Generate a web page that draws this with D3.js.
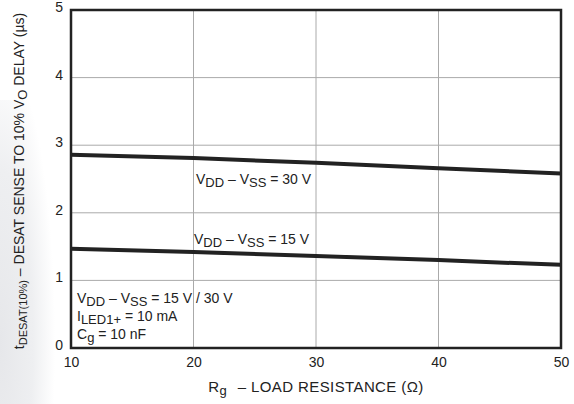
<!DOCTYPE html>
<html>
<head>
<meta charset="utf-8">
<script src="https://cdn.jsdelivr.net/npm/d3@7"></script>
<style>
body { margin: 0; background: #fff; }
text { font-family: "Liberation Sans", Arial, sans-serif; fill: #222; }
</style>
</head>
<body>
<svg id="chart" width="574" height="404"></svg>
<script>
// data
const rg = [10, 20, 30, 40, 50];
const delay30 = [2.86, 2.81, 2.74, 2.66, 2.58];
const delay15 = [1.47, 1.42, 1.36, 1.30, 1.23];
const xTicks = [10, 20, 30, 40, 50];
const yTicks = [0, 1, 2, 3, 4, 5];

const svg = d3.select("#chart");
const pLeft = 71, pRight = 561, pTop = 10, pBottom = 348;

const x = d3.scaleLinear().domain([10, 50]).range([pLeft, pRight]);
const y = d3.scaleLinear().domain([0, 5]).range([pBottom, pTop]);

// faint grey shading on the left edge
const grad = svg.append("defs").append("radialGradient")
    .attr("id", "shade").attr("cx", "0").attr("cy", "0.8").attr("r", "0.95");
grad.append("stop").attr("offset", "0%").attr("stop-color", "#e6e7ea");
grad.append("stop").attr("offset", "60%").attr("stop-color", "#eeeff1");
grad.append("stop").attr("offset", "100%").attr("stop-color", "#fff");
svg.append("rect").attr("x", 0).attr("y", 100).attr("width", 58).attr("height", 304)
    .attr("fill", "url(#shade)");

// grid
svg.append("g").selectAll("line").data(xTicks.slice(1, -1)).enter().append("line")
    .attr("x1", d => x(d)).attr("x2", d => x(d))
    .attr("y1", pTop).attr("y2", pBottom)
    .attr("stroke", "#aaa").attr("stroke-width", 1);
svg.append("g").selectAll("line").data(yTicks.slice(1, -1)).enter().append("line")
    .attr("x1", pLeft).attr("x2", pRight)
    .attr("y1", d => y(d)).attr("y2", d => y(d))
    .attr("stroke", "#aaa").attr("stroke-width", 1);

// axes (labels only, box drawn below)
const xAxis = svg.append("g").attr("transform", "translate(0," + pBottom + ")")
    .call(d3.axisBottom(x).tickValues(xTicks).tickFormat(d3.format("d")).tickSize(0).tickPadding(6));
const yAxis = svg.append("g").attr("transform", "translate(" + pLeft + ",0)")
    .call(d3.axisLeft(y).tickValues(yTicks).tickFormat(d3.format("d")).tickSize(0).tickPadding(8));
[xAxis, yAxis].forEach(a => {
    a.select(".domain").remove();
    a.selectAll("text").style("font-size", "14px").attr("fill", "#222")
        .style("font-family", "'Liberation Sans', Arial, sans-serif");
});
xAxis.selectAll("text").attr("dy", "0.9em");
yAxis.selectAll("text").attr("dy", "0.1em");

// curves
const line = d3.line().x((d, i) => x(rg[i])).y(d => y(d));
[delay30, delay15].forEach(s => {
    svg.append("path").datum(s).attr("d", line)
        .attr("fill", "none").attr("stroke", "#222").attr("stroke-width", 4);
});

// frame
svg.append("rect").attr("x", pLeft).attr("y", pTop)
    .attr("width", pRight - pLeft).attr("height", pBottom - pTop)
    .attr("fill", "none").attr("stroke", "#222").attr("stroke-width", 2.5);

function vlabel(g, xx, yy, volts) {
    const t = g.append("text").attr("x", xx).attr("y", yy).style("font-size", "14px");
    t.append("tspan").text("V");
    t.append("tspan").attr("dy", 3).style("font-size", "13px").text("DD");
    t.append("tspan").attr("dy", -3).text(" \u2013 V");
    t.append("tspan").attr("dy", 3).style("font-size", "13px").text("SS");
    t.append("tspan").attr("dy", -3).text(" = " + volts);
    return t;
}
vlabel(svg, 196, 184, "30 V");
vlabel(svg, 194, 244, "15 V");
vlabel(svg, 77, 303, "15 V / 30 V");

const t2 = svg.append("text").attr("x", 77).attr("y", 321).style("font-size", "14px");
t2.append("tspan").text("I");
t2.append("tspan").attr("dy", 3).style("font-size", "13px").text("LED1+");
t2.append("tspan").attr("dy", -3).text(" = 10 mA");
const t3 = svg.append("text").attr("x", 77).attr("y", 339).style("font-size", "14px");
t3.append("tspan").text("C");
t3.append("tspan").attr("dy", 3).style("font-size", "13px").text("g");
t3.append("tspan").attr("dy", -3).text(" = 10 nF");

// x title
const xt = svg.append("text").attr("x", 316).attr("y", 392)
    .attr("text-anchor", "middle").style("font-size", "15px").style("letter-spacing", "0.4px");
xt.append("tspan").text("R");
xt.append("tspan").attr("dy", 3).style("font-size", "13px").text("g");
xt.append("tspan").attr("dy", -3).attr("dx", 6).text(" \u2013 LOAD RESISTANCE (\u03A9)");

// y title
const yt = svg.append("text").attr("transform", "translate(24," + ((pTop + pBottom) / 2 + 2) + ") rotate(-90)")
    .attr("text-anchor", "middle").style("font-size", "14px");
yt.append("tspan").text("t");
yt.append("tspan").attr("dy", 3).style("font-size", "11px").text("DESAT(10%)");
yt.append("tspan").attr("dy", -3).text(" \u2013 DESAT SENSE TO 10% V");
yt.append("tspan").attr("dy", 3).style("font-size", "13px").text("O");
yt.append("tspan").attr("dy", -3).text(" DELAY (\u00B5s)");
</script>
</body>
</html>
